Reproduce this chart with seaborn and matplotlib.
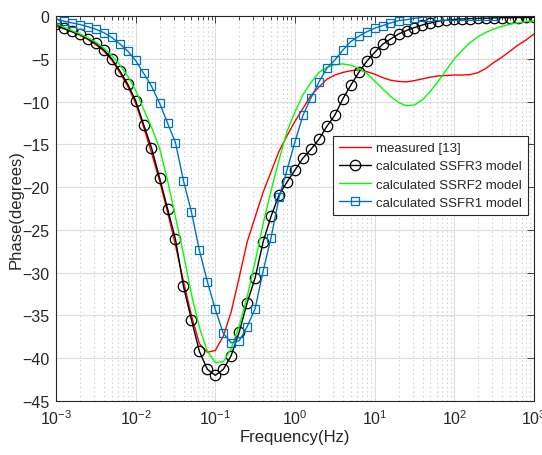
import numpy as np
import pandas as pd
import matplotlib
matplotlib.use("Agg")
import matplotlib.pyplot as plt
import seaborn as sns
from matplotlib.ticker import LogLocator, FixedLocator, NullFormatter

# ---------------- data ----------------
freq = [0.001, 0.00126, 0.00158, 0.002, 0.00251, 0.00316, 0.00398, 0.00501, 0.00631, 0.00794,
        0.01, 0.0126, 0.0158, 0.02, 0.0251, 0.0316, 0.0398, 0.0501, 0.0631, 0.0794,
        0.1, 0.126, 0.158, 0.2, 0.251, 0.316, 0.398, 0.501, 0.631, 0.794,
        1, 1.26, 1.58, 2, 2.51, 3.16, 3.98, 5.01, 6.31, 7.94,
        10, 12.6, 15.8, 20, 25.1, 31.6, 39.8, 50.1, 63.1, 79.4,
        100, 126, 158, 200, 251, 316, 398, 501, 631, 794, 1000]

measured = [-1.2, -1.5, -1.85, -2.25, -2.75, -3.35, -4.1, -5.15, -6.6, -8.2,
            -10.2, -13.0, -16.0, -19.3, -22.9, -26.8, -31.0, -35.0, -38.3, -39.3,
            -39.1, -37.4, -34.6, -30.5, -26.4, -23.5, -20.6, -18.2, -15.8, -14.0,
            -12.3, -10.8, -9.3, -8.3, -7.4, -6.9, -6.6, -6.4, -6.3, -6.5,
            -6.8, -7.2, -7.5, -7.65, -7.7, -7.55, -7.35, -7.15, -7.0, -6.95,
            -6.9, -6.9, -6.85, -6.6, -6.1, -5.4, -4.8, -4.1, -3.4, -2.8, -2.1]

ssfr3 = [-0.95, -1.45, -1.8, -2.15, -2.65, -3.2, -3.95, -5.0, -6.4, -7.95,
         -9.9, -12.7, -15.4, -18.95, -22.5, -26.1, -31.6, -35.5, -39.2, -41.3,
         -42.0, -41.3, -39.7, -36.9, -33.5, -30.6, -26.4, -23.4, -20.9, -19.4,
         -18.0, -16.6, -15.6, -14.4, -12.9, -11.6, -9.7, -8.1, -6.6, -5.3,
         -4.25, -3.3, -2.7, -2.1, -1.7, -1.35, -1.05, -0.82, -0.6, -0.5,
         -0.4, -0.35, -0.3, -0.28, -0.25, -0.22, -0.2, -0.2, -0.18, -0.17, -0.15]

ssrf2 = [-0.9, -1.3, -1.7, -2.1, -2.55, -3.05, -3.75, -4.6, -5.7, -7.0,
         -8.7, -10.9, -13.0, -15.5, -19.2, -23.5, -27.8, -32.5, -36.4, -39.2,
         -40.5, -40.4, -38.9, -36.2, -32.8, -28.7, -24.3, -20.4, -16.8, -13.5,
         -11.2, -9.2, -7.8, -6.6, -6.0, -5.7, -5.6, -5.75, -6.1, -6.7,
         -7.6, -8.5, -9.4, -10.1, -10.5, -10.4, -9.8, -8.8, -7.6, -6.3,
         -5.0, -4.0, -3.1, -2.4, -1.9, -1.5, -1.2, -0.95, -0.8, -0.65, -0.55]

ssfr1 = [-0.35, -0.6, -0.8, -1.0, -1.25, -1.55, -1.95, -2.5, -3.25, -4.1,
         -5.2, -6.7, -8.2, -10.2, -12.5, -14.8, -19.25, -22.9, -27.4, -31.05,
         -34.3, -37.1, -38.2, -37.95, -36.3, -34.2, -29.8, -25.9, -21.2, -18.0,
         -14.7, -11.6, -9.6, -7.7, -6.1, -5.15, -4.0, -3.0, -2.37, -1.85,
         -1.42, -1.13, -0.82, -0.55, -0.43, -0.27, -0.15, -0.08, -0.03, 0.0,
         0.0, 0.0, 0.0, 0.0, 0.0, 0.0]

labels = ["measured [13]", "calculated SSFR3 model",
          "calculated SSRF2 model", "calculated SSFR1 model"]
yticks = [0, -5, -10, -15, -20, -25, -30, -35, -40, -45]

# ---------------- style ----------------
sns.set_theme(style="white")
plt.rcParams['font.family'] = ['Liberation Sans', 'DejaVu Sans']
plt.rcParams['mathtext.fontset'] = 'custom'
plt.rcParams['mathtext.rm'] = 'Liberation Sans'
plt.rcParams['mathtext.it'] = 'Liberation Sans:italic'
plt.rcParams['mathtext.bf'] = 'Liberation Sans:bold'

W, H = 542, 456
fig = plt.figure(figsize=(W / 100, H / 100), dpi=100)
ax = fig.add_axes([56 / W, 1 - 402 / H, 478 / W, 385 / H])

dark = '#262626'
ax.set_xscale('log')

df_red = pd.DataFrame({'f': freq, 'p': measured})
df_blk = pd.DataFrame({'f': freq, 'p': ssfr3})
df_grn = pd.DataFrame({'f': freq, 'p': ssrf2})
df_blu = pd.DataFrame({'f': freq[:len(ssfr1)], 'p': ssfr1})

sns.lineplot(data=df_red, x='f', y='p', ax=ax, color='#FF0000', lw=1.0,
             label=labels[0], estimator=None, sort=False)
sns.lineplot(data=df_blk, x='f', y='p', ax=ax, color='black', lw=1.0,
             marker='o', markersize=7.5, markerfacecolor='none',
             markeredgecolor='black', markeredgewidth=0.9,
             label=labels[1], estimator=None, sort=False)
sns.lineplot(data=df_grn, x='f', y='p', ax=ax, color='#00FF00', lw=1.0,
             label=labels[2], estimator=None, sort=False)
sns.lineplot(data=df_blu, x='f', y='p', ax=ax, color='#0072BD', lw=1.0,
             marker='s', markersize=6.3, markerfacecolor='none',
             markeredgecolor='#0072BD', markeredgewidth=0.9,
             label=labels[3], estimator=None, sort=False)

ax.set_xlim(1e-3, 1e3)
ax.set_ylim(-45, 0)
ax.xaxis.set_major_locator(LogLocator(base=10, numticks=20))
ax.xaxis.set_minor_locator(LogLocator(base=10, subs=np.arange(2, 10), numticks=100))
ax.xaxis.set_minor_formatter(NullFormatter())
ax.yaxis.set_major_locator(FixedLocator(yticks))

ax.grid(which='major', color='#DCDCDC', lw=0.8, ls='-')
ax.grid(which='minor', axis='x', color='#C4C4C4', lw=0.8, ls=(0, (1, 3)))
ax.set_axisbelow(True)

for s in ax.spines.values():
    s.set_color(dark)
    s.set_linewidth(0.8)
ax.tick_params(which='both', direction='in', top=True, right=True,
               colors=dark, labelcolor=dark, width=0.6)
ax.tick_params(which='major', length=5, labelsize=11.5)
ax.tick_params(which='minor', length=3)
ax.tick_params(axis='x', which='major', pad=5)
ax.tick_params(axis='y', which='major', pad=5)

ax.set_xlabel('Frequency(Hz)', fontsize=12, color=dark, labelpad=2)
ax.set_ylabel('Phase(degrees)', fontsize=12, color=dark, labelpad=-1)

leg = ax.legend(loc='upper right', bbox_to_anchor=(0.987, 0.688),
                borderaxespad=0, fontsize=9.5, frameon=True, fancybox=False,
                edgecolor=dark, framealpha=1, handlelength=2.4,
                handletextpad=0.4, labelspacing=0.45, borderpad=0.45)
leg.get_frame().set_linewidth(0.8)

fig.savefig('out.png', dpi=100)
